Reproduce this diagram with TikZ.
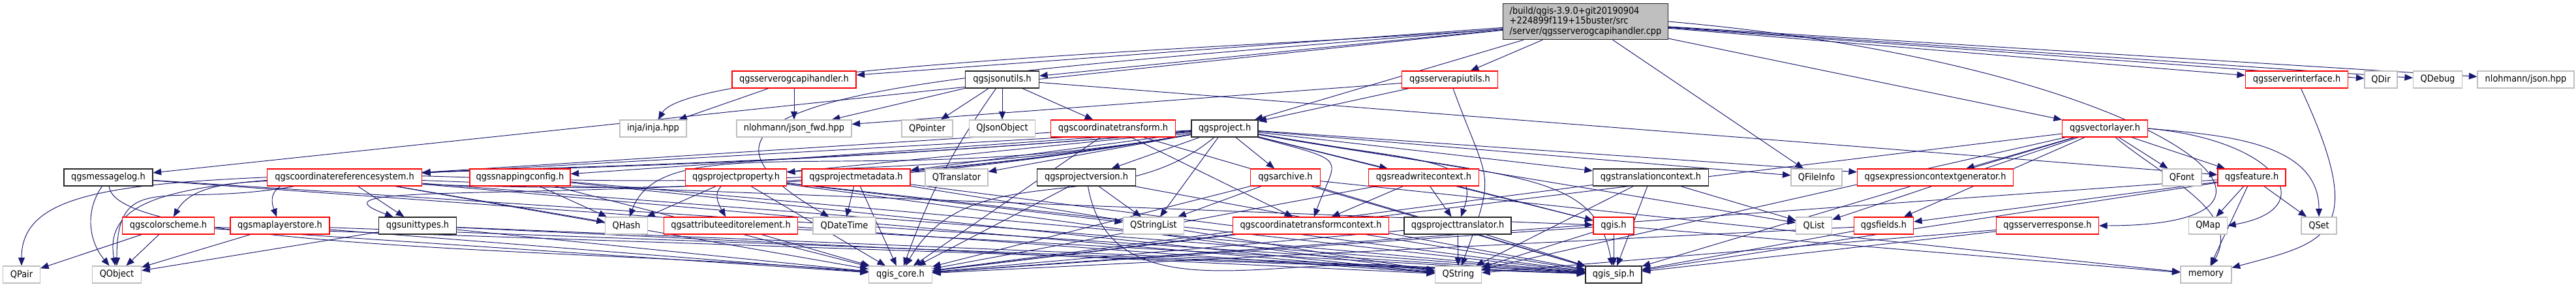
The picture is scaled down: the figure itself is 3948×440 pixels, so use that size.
\documentclass[tikz,border=0pt]{standalone}
\usepackage{fontspec}
\setmainfont{DejaVu Sans Condensed}
\usetikzlibrary{arrows.meta}
\definecolor{edgeblue}{HTML}{191970}
\definecolor{leafgray}{HTML}{BFBFBF}
\pgfdeclarelayer{bg}
\pgfsetlayers{bg,main}

\begin{document}
\begin{tikzpicture}[
  x=0.2mm, y=-0.2mm,
  >={Triangle[length=2.5mm,width=2mm]},
  file/.style={draw,line width=0.7pt,fill=white,minimum height=5.2mm,inner sep=0pt,font=\fontsize{8.2}{9.5}\selectfont},
  wd/.style={minimum width=#1*0.2mm},
  leaf/.style={file,draw=leafgray},
  part/.style={file,draw=red},
  known/.style={file,draw=black!85},
  dep/.style={->,draw=edgeblue,line width=0.55pt}
]
  \useasboundingbox (0,0) rectangle (3948,440);

  % source file
  \node[known,fill=leafgray,wd=253,minimum height=11mm,align=left,font=\fontsize{8.2}{8.6}\selectfont] (main) at (2430,33)
    {/build/qgis-3.9.0+git20190904\\+224899f119+15buster/src\\/server/qgsserverogcapihandler.cpp};

  % row 1
  \node[part,wd=190] (ogcapi) at (1217,122) {qgsserverogcapihandler.h};
  \node[known,wd=113] (jsonutils) at (1536,122) {qgsjsonutils.h};
  \node[part,wd=147] (apiutils) at (2222,122) {qgsserverapiutils.h};
  \node[part,wd=157] (iface) at (3520,122) {qgsserverinterface.h};
  \node[leaf,wd=50] (qdir) at (3649,122) {QDir};
  \node[leaf,wd=75] (qdebug) at (3736,122) {QDebug};
  \node[leaf,wd=148] (njson) at (3871,122) {nlohmann/json.hpp};

  % row 2
  \node[leaf,wd=102] (inja) at (1001,197) {inja/inja.hpp};
  \node[leaf,wd=176] (jsonfwd) at (1217,197) {nlohmann/json\_fwd.hpp};
  \node[leaf,wd=78] (qpointer) at (1421,197) {QPointer};
  \node[leaf,wd=101] (qjsonobj) at (1536,197) {QJsonObject};
  \node[part,wd=191] (ctrans) at (1706,197) {qgscoordinatetransform.h};
  \node[known,wd=102] (project) at (1877,197) {qgsproject.h};
  \node[part,wd=131] (vlayer) at (3226,197) {qgsvectorlayer.h};

  % row 3
  \node[known,wd=136] (msglog) at (166,272) {qgsmessagelog.h};
  \node[part,wd=237] (crs) at (528,272) {qgscoordinatereferencesystem.h};
  \node[part,wd=154] (snapping) at (797,272) {qgssnappingconfig.h};
  \node[part,wd=155] (projprop) at (1128,272) {qgsprojectproperty.h};
  \node[part,wd=166] (projmeta) at (1312,272) {qgsprojectmetadata.h};
  \node[leaf,wd=96] (qtranslator) at (1466,272) {QTranslator};
  \node[known,wd=151] (projver) at (1665,272) {qgsprojectversion.h};
  \node[part,wd=107] (archive) at (1970,272) {qgsarchive.h};
  \node[part,wd=169] (rwctx) at (2182,272) {qgsreadwritecontext.h};
  \node[known,wd=177] (trctx) at (2530,272) {qgstranslationcontext.h};
  \node[leaf,wd=78] (qfileinfo) at (2784,272) {QFileInfo};
  \node[part,wd=239] (exprgen) at (2966,272) {qgsexpressioncontextgenerator.h};
  \node[leaf,wd=60] (qfont) at (3344,272) {QFont};
  \node[part,wd=104] (feature) at (3451,272) {qgsfeature.h};

  % row 4
  \node[part,wd=141] (colorscheme) at (258,346) {qgscolorscheme.h};
  \node[part,wd=152] (mlstore) at (429,346) {qgsmaplayerstore.h};
  \node[known,wd=119] (unittypes) at (640,346) {qgsunittypes.h};
  \node[leaf,wd=65] (qhash) at (960,346) {QHash};
  \node[part,wd=205] (attredit) at (1120,346) {qgsattributeeditorelement.h};
  \node[leaf,wd=96] (qdatetime) at (1294,346) {QDateTime};
  \node[leaf,wd=93] (qstringlist) at (1768,346) {QStringList};
  \node[part,wd=239] (ctctx) at (2009,346) {qgscoordinatetransformcontext.h};
  \node[known,wd=164] (projtr) at (2234,346) {qgsprojecttranslator.h};
  \node[part,wd=62] (qgis) at (2473,346) {qgis.h};
  \node[leaf,wd=55] (qlist) at (2780,346) {QList};
  \node[part,wd=91] (fields) at (2887,346) {qgsfields.h};
  \node[part,wd=157] (response) at (3138,346) {qgsserverresponse.h};
  \node[leaf,wd=59] (qmap) at (3384,346) {QMap};
  \node[leaf,wd=54] (qset) at (3554,346) {QSet};

  % row 5
  \node[leaf,wd=57] (qpair) at (33,421) {QPair};
  \node[leaf,wd=75] (qobject) at (179,421) {QObject};
  \node[leaf,wd=97] (core) at (1380,421) {qgis\_core.h};
  \node[leaf,wd=71] (qstring) at (2235,421) {QString};
  \node[known,wd=86] (sip) at (2473,421) {qgis\_sip.h};
  \node[leaf,wd=78] (memory) at (3381,421) {memory};

  \begin{pgfonlayer}{bg}
  % includes of the source file
  \draw[dep] (main) -- (ogcapi);
  \draw[dep] (main) -- (jsonutils);
  \draw[dep] (main) -- (apiutils);
  \draw[dep] (main) -- (project);
  \draw[dep] (main) -- (msglog);
  \draw[dep] (main) to[out=185,in=60,out distance=60mm,in distance=20mm] (inja);
  \draw[dep] (main) to[out=185,in=150,out distance=160mm,in distance=80mm] (qdatetime);
  \draw[dep] (main) -- (vlayer);
  \draw[dep] (main) -- (iface);
  \draw[dep] (main) -- (qdir);
  \draw[dep] (main) -- (qdebug);
  \draw[dep] (main) -- (njson);
  \draw[dep] (main) -- (qfileinfo);
  \draw[dep] (main.east) to[out=-5,in=0,out distance=150mm,in distance=80mm] (response.east);

  % row 1
  \draw[dep] (ogcapi) -- (inja);
  \draw[dep] (ogcapi) -- (jsonfwd);
  \draw[dep] (jsonutils) -- (jsonfwd);
  \draw[dep] (jsonutils) -- (qpointer);
  \draw[dep] (jsonutils) -- (qjsonobj);
  \draw[dep] (jsonutils) -- (ctrans);
  \draw[dep] (jsonutils) -- (feature);
  \draw[dep] (jsonutils) to[out=235,in=70] (core);
  \draw[dep] (apiutils) -- (jsonfwd);
  \draw[dep] (apiutils) -- (project);
  \draw[dep] (apiutils) to[out=-70,in=70,looseness=1.5] (qstring);
  \draw[dep] (iface) to[out=-65,in=15,out distance=50mm,in distance=30mm] (memory);

  % qgsproject.h
  \draw[dep] (project) -- (crs);
  \draw[dep] (project) -- (snapping);
  \draw[dep] (project) -- (projprop);
  \draw[dep] (project) -- (projmeta);
  \draw[dep] (project) -- (qtranslator);
  \draw[dep] (project) -- (projver);
  \draw[dep] (project) -- (qstringlist);
  \draw[dep] (project) -- (archive);
  \draw[dep] (project) -- (rwctx);
  \draw[dep] (project) -- (trctx);
  \draw[dep] (project) -- (qfileinfo);
  \draw[dep] (project) -- (exprgen);
  \draw[dep] (project) -- (qgis);
  \draw[dep] (project) -- (qlist);
  \draw[dep] (project) to[out=190,in=60,out distance=200mm,in distance=30mm] (colorscheme);
  \draw[dep] (project) to[out=190,in=110,out distance=180mm,in distance=30mm] (mlstore);
  \draw[dep] (project) to[out=190,in=160,out distance=150mm,in distance=40mm] (unittypes);
  \draw[dep] (project) to[out=190,in=70,out distance=100mm,in distance=30mm] (qhash);
  \draw[dep] (project) to[out=190,in=120,out distance=100mm,in distance=25mm] (attredit);
  \draw[dep] (project) to[out=185,in=90,out distance=260mm,in distance=40mm] (qpair);
  \draw[dep] (project) to[out=185,in=100,out distance=240mm,in distance=40mm] (qobject);
  \draw[dep] (project) to[out=220,in=60] (core);
  \draw[dep] (project) to[out=-15,in=70,out distance=30mm,in distance=20mm] (ctctx);
  \draw[dep] (project) to[out=-10,in=70,out distance=50mm,in distance=20mm] (projtr);
  \draw[dep] (project) to[out=-10,in=100,out distance=80mm,in distance=30mm] (sip);

  % row 3
  \draw[dep] (msglog) to[out=235,in=130] (qobject);
  \draw[dep] (msglog) to[out=-85,in=175,out distance=20mm,in distance=80mm] (core);
  \draw[dep] (msglog) -- (sip);
  \draw[dep] (msglog) -- (qstring);
  \draw[dep] (crs) to[out=190,in=90,out distance=40mm,in distance=30mm] (qobject);
  \draw[dep] (crs) -- (unittypes);
  \draw[dep] (crs) -- (core);
  \draw[dep] (crs) -- (sip);
  \draw[dep] (crs) -- (qstring);
  \draw[dep] (crs) -- (qgis);
  \draw[dep] (crs) -- (qhash);
  \draw[dep] (snapping) -- (qhash);
  \draw[dep] (snapping) -- (core);
  \draw[dep] (snapping) -- (sip);
  \draw[dep] (snapping) -- (qstring);
  \draw[dep] (projprop) -- (qhash);
  \draw[dep] (projprop) -- (core);
  \draw[dep] (projprop) -- (qstringlist);
  \draw[dep] (projprop) -- (sip);
  \draw[dep] (projprop) -- (qstring);
  \draw[dep] (projmeta) -- (qdatetime);
  \draw[dep] (projmeta) -- (core);
  \draw[dep] (projmeta) -- (sip);
  \draw[dep] (projmeta) -- (qstring);
  \draw[dep] (projver) -- (core);
  \draw[dep] (projver) -- (qstringlist);
  \draw[dep] (projver) -- (sip);
  \draw[dep] (projver) to[out=-80,in=170] (qstring);
  \draw[dep] (archive) -- (qstringlist);
  \draw[dep] (archive) -- (core);
  \draw[dep] (archive) -- (sip);
  \draw[dep] (archive) -- (memory);
  \draw[dep] (ctrans) -- (ctctx);
  \draw[dep] (ctrans) -- (crs);
  \draw[dep] (ctrans) -- (core);
  \draw[dep] (ctrans) -- (sip);
  \draw[dep] (rwctx) -- (ctctx);
  \draw[dep] (rwctx) -- (projtr);
  \draw[dep] (rwctx) -- (qgis);
  \draw[dep] (rwctx) -- (core);
  \draw[dep] (trctx) -- (qstring);
  \draw[dep] (trctx) -- (sip);
  \draw[dep] (trctx) -- (core);
  \draw[dep] (trctx) -- (qlist);

  % qgsvectorlayer.h and qgsfeature.h
  \draw[dep] (vlayer) -- (exprgen);
  \draw[dep] (vlayer) -- (qlist);
  \draw[dep] (vlayer) -- (fields);
  \draw[dep] (vlayer) -- (core);
  \draw[dep] (vlayer) -- (qfont);
  \draw[dep] (vlayer) -- (feature);
  \draw[dep] (vlayer) -- (sip);
  \draw[dep] (vlayer) -- (qstring);
  \draw[dep] (vlayer) to[out=-40,in=60] (memory);
  \draw[dep] (vlayer.east) to[out=-5,in=90] (qset);
  \draw[dep] (vlayer.east) to[out=-5,in=10,out distance=40mm,in distance=30mm] (qmap.east);
  \draw[dep] (feature) -- (qmap);
  \draw[dep] (feature) -- (qset);
  \draw[dep] (feature) -- (memory);
  \draw[dep] (feature) -- (fields);
  \draw[dep] (feature) -- (core);
  \draw[dep] (feature) -- (sip);

  % row 4
  \draw[dep] (colorscheme) -- (qpair);
  \draw[dep] (colorscheme) -- (qobject);
  \draw[dep] (colorscheme) -- (core);
  \draw[dep] (colorscheme) -- (sip);
  \draw[dep] (mlstore) -- (qobject);
  \draw[dep] (mlstore) -- (core);
  \draw[dep] (mlstore) -- (sip);
  \draw[dep] (unittypes) -- (qobject);
  \draw[dep] (unittypes) -- (core);
  \draw[dep] (unittypes) -- (sip);
  \draw[dep] (unittypes) -- (qstring);
  \draw[dep] (attredit) -- (core);
  \draw[dep] (attredit) -- (sip);
  \draw[dep] (ctctx) -- (core);
  \draw[dep] (ctctx) -- (sip);
  \draw[dep] (projtr) -- (qstring);
  \draw[dep] (projtr) -- (sip);
  \draw[dep] (projtr) -- (core);
  \draw[dep] (qgis) -- (sip);
  \draw[dep] (qgis) -- (core);
  \draw[dep] (qgis) -- (memory);
  \draw[dep] (qgis) -- (qstring);
  \draw[dep] (fields) -- (core);
  \draw[dep] (fields) -- (sip);
  \draw[dep] (response) -- (sip);
  \draw[dep] (response) -- (qstring);
  \end{pgfonlayer}
\end{tikzpicture}
\end{document}
